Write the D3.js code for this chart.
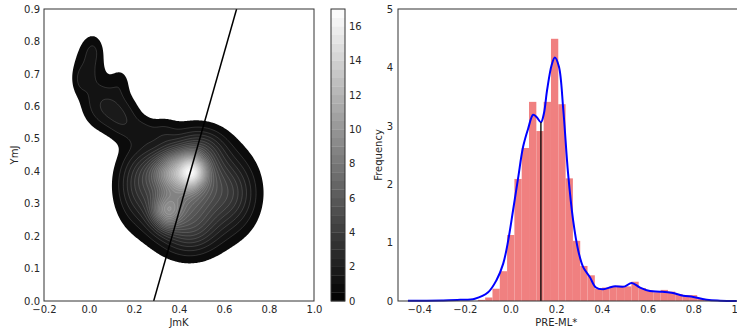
<!DOCTYPE html>
<html><head><meta charset="utf-8">
<script src="https://cdn.jsdelivr.net/npm/d3@7"></script>
<style>
body{margin:0;background:#fff;}
svg text{font-family:"DejaVu Sans",sans-serif;fill:#262626;}
</style></head>
<body>
<svg id="c" width="737" height="329"></svg>
<script>
// ---------- Left panel: density components (JmK, YmJ) ----------
const compJmK = [0.44, 0.22, 0.64, 0.45, 0.50, 0.40, 0.46, 0.345, 0.33, 0.08, 0.16, 0.00, 0.02, 0.14, 0.24, -0.04, 0.38, 0.43];
const compYmJ = [0.34, 0.36, 0.33, 0.22, 0.47, 0.40, 0.40, 0.275, 0.52, 0.60, 0.55, 0.72, 0.78, 0.68, 0.52, 0.68, 0.33, 0.34];
const compSx  = [0.12, 0.06, 0.07, 0.08, 0.07, 0.08, 0.035, 0.045, 0.04, 0.07, 0.05, 0.05, 0.03, 0.03, 0.04, 0.025, 0.05, 0.19];
const compSy  = [0.085, 0.07, 0.07, 0.05, 0.04, 0.04, 0.03, 0.035, 0.03, 0.05, 0.04, 0.06, 0.03, 0.03, 0.03, 0.03, 0.04, 0.125];
const compAmp = [5.6, 1.8, 1.8, 1.8, 1.8, 7.0, 6.0, 5.0, 0.6, 1.5, 0.9, 1.0, 0.5, 0.5, 0.7, 0.5, 0.6, 0.6];
const contourLevels = d3.range(0.5, 17.01, 0.5);
const fitLineJmK = [0.2875, 0.656];
const fitLineYmJ = [0.0, 0.9];
const leftXTicks = [-0.2, 0.0, 0.2, 0.4, 0.6, 0.8, 1.0];
const leftYTicks = [0.0, 0.1, 0.2, 0.3, 0.4, 0.5, 0.6, 0.7, 0.8, 0.9];
const cbTicks = [0, 2, 4, 6, 8, 10, 12, 14, 16];

// ---------- Right panel: histogram + KDE ----------
const histLeft = [-0.143, -0.111, -0.079, -0.047, -0.015, 0.017, 0.049, 0.081, 0.113, 0.145, 0.177, 0.209, 0.241, 0.273, 0.305, 0.337, 0.369, 0.401, 0.433, 0.465, 0.497, 0.529, 0.561, 0.593, 0.625, 0.657, 0.689, 0.721, 0.753, 0.785, 0.817, 0.849];
const histFreq = [0.02, 0.06, 0.21, 0.51, 1.13, 2.09, 2.62, 3.41, 2.91, 3.41, 4.49, 3.37, 2.10, 1.03, 0.60, 0.44, 0.21, 0.23, 0.25, 0.26, 0.25, 0.33, 0.22, 0.18, 0.15, 0.19, 0.16, 0.12, 0.10, 0.10, 0.04, 0.02];
const histBinWidth = 0.032;
const kdeX = [-0.449, -0.30, -0.22, -0.156, -0.098, -0.061, -0.032, -0.010, 0.011, 0.033, 0.055, 0.077, 0.099, 0.114, 0.133, 0.146, 0.160, 0.180, 0.194, 0.212, 0.231, 0.252, 0.274, 0.296, 0.318, 0.347, 0.374, 0.406, 0.450, 0.501, 0.530, 0.567, 0.610, 0.654, 0.705, 0.756, 0.800, 0.859, 0.917, 0.99];
const kdeY = [0.003, 0.01, 0.02, 0.04, 0.15, 0.36, 0.64, 1.04, 1.55, 2.10, 2.64, 2.95, 3.19, 3.15, 3.06, 3.21, 3.61, 4.04, 4.17, 4.01, 3.27, 2.18, 1.38, 0.87, 0.58, 0.41, 0.23, 0.20, 0.25, 0.25, 0.31, 0.23, 0.17, 0.16, 0.14, 0.09, 0.07, 0.02, 0.005, 0.0];
const medianX = 0.133, medianTop = 3.06;
const rightXTicks = [-0.4, -0.2, 0.0, 0.2, 0.4, 0.6, 0.8, 1.0];
const rightYTicks = [0, 1, 2, 3, 4, 5];

const svg = d3.select("#c");
const fmt1 = v => (v < 0 ? "\u2212" : "") + Math.abs(v).toFixed(1);

// ===== Left panel =====
const L = {x0: 44, x1: 314, y0: 9, y1: 301};
const lx = d3.scaleLinear().domain([-0.2, 1.0]).range([L.x0, L.x1]);
const ly = d3.scaleLinear().domain([0, 0.9]).range([L.y1, L.y0]);
const gray = d3.scaleLinear().domain([0, 17]).range(["#000", "#fff"]);

const nx = 300, ny = 225;
const dx = 1.2 / nx, dy = 0.9 / ny;
const values = new Float64Array(nx * ny);
for (let j = 0; j < ny; j++) {
  const yv = 0.9 - (j + 0.5) * dy;
  for (let i = 0; i < nx; i++) {
    const xv = -0.2 + (i + 0.5) * dx;
    let s = 0;
    for (let k = 0; k < compAmp.length; k++) {
      const a = (xv - compJmK[k]) / compSx[k], b = (yv - compYmJ[k]) / compSy[k];
      s += compAmp[k] * Math.exp(-0.5 * (a * a + b * b));
    }
    values[i + j * nx] = s;
  }
}
const contours = d3.contours().size([nx, ny]).thresholds(contourLevels)(values);
const proj = d3.geoTransform({point: function(gx, gy) {
  this.stream.point(lx(-0.2 + gx * dx), ly(0.9 - gy * dy));
}});
const path = d3.geoPath(proj);
svg.append("clipPath").attr("id", "clipL").append("rect")
  .attr("x", L.x0).attr("y", L.y0).attr("width", L.x1 - L.x0).attr("height", L.y1 - L.y0);
const gL = svg.append("g").attr("clip-path", "url(#clipL)");
gL.selectAll("path.band").data(contours).join("path")
  .attr("d", path)
  .attr("fill", d => gray(Math.min(17, d.value + 0.25)))
  .attr("stroke", (d, i) => i === 0 ? "none" : "#ffffff")
  .attr("stroke-opacity", 0.3)
  .attr("stroke-width", 0.5);
gL.append("line")
  .attr("x1", lx(fitLineJmK[0])).attr("y1", ly(fitLineYmJ[0]))
  .attr("x2", lx(fitLineJmK[1])).attr("y2", ly(fitLineYmJ[1]))
  .attr("stroke", "#000").attr("stroke-width", 1.5);
svg.append("rect").attr("x", L.x0).attr("y", L.y0).attr("width", L.x1 - L.x0).attr("height", L.y1 - L.y0)
  .attr("fill", "none").attr("stroke", "#333").attr("stroke-width", 1);

const axLX = svg.append("g").attr("transform", `translate(0,${L.y1})`)
  .call(d3.axisBottom(lx).tickValues(leftXTicks).tickFormat(fmt1).tickSize(0).tickPadding(5));
const axLY = svg.append("g").attr("transform", `translate(${L.x0},0)`)
  .call(d3.axisLeft(ly).tickValues(leftYTicks).tickFormat(fmt1).tickSize(0).tickPadding(4));
svg.append("text").attr("x", (L.x0 + L.x1) / 2).attr("y", 326).attr("text-anchor", "middle")
  .attr("font-size", 10).text("JmK");
svg.append("text").attr("transform", `translate(18,${(L.y0 + L.y1) / 2}) rotate(-90)`)
  .attr("text-anchor", "middle").attr("font-size", 10).text("YmJ");

// ===== Colorbar =====
const CB = {x0: 331, x1: 345};
const cy = d3.scaleLinear().domain([0, 17]).range([L.y1, L.y0]);
const cbBands = [0].concat(contourLevels.slice(0, -1));
svg.append("g").selectAll("rect").data(cbBands).join("rect")
  .attr("x", CB.x0).attr("width", CB.x1 - CB.x0)
  .attr("y", d => cy(d + 0.5)).attr("height", d => cy(d) - cy(d + 0.5) + 0.3)
  .attr("fill", d => gray(d + 0.25));
svg.append("rect").attr("x", CB.x0).attr("y", L.y0).attr("width", CB.x1 - CB.x0).attr("height", L.y1 - L.y0)
  .attr("fill", "none").attr("stroke", "#333").attr("stroke-width", 1);
const axCB = svg.append("g").attr("transform", `translate(${CB.x1},0)`)
  .call(d3.axisRight(cy).tickValues(cbTicks).tickFormat(d3.format("d")).tickSize(0).tickPadding(4));

// ===== Right panel =====
const R = {x0: 398, x1: 739, y0: 9, y1: 301};
const rx = d3.scaleLinear().domain([-0.4925, 1.0]).range([R.x0, R.x1]);
const ry = d3.scaleLinear().domain([0, 5]).range([R.y1, R.y0]);
const gR = svg.append("g");
gR.selectAll("rect").data(histFreq).join("rect")
  .attr("x", (d, i) => rx(histLeft[i]))
  .attr("width", (d, i) => rx(histLeft[i] + histBinWidth) - rx(histLeft[i]))
  .attr("y", d => ry(d)).attr("height", d => ry(0) - ry(d))
  .attr("fill", "#f08080");
const kdePts = kdeX.map((x, i) => [x, kdeY[i]]);
gR.append("path").datum(kdePts)
  .attr("d", d3.line().x(d => rx(d[0])).y(d => ry(d[1])).curve(d3.curveCatmullRom.alpha(0.5)))
  .attr("fill", "none").attr("stroke", "#0000ff").attr("stroke-width", 2);
gR.append("line").attr("x1", rx(medianX)).attr("x2", rx(medianX)).attr("y1", ry(0)).attr("y2", ry(medianTop))
  .attr("stroke", "#000").attr("stroke-width", 1.3);
svg.append("rect").attr("x", R.x0).attr("y", R.y0).attr("width", R.x1 - R.x0).attr("height", R.y1 - R.y0)
  .attr("fill", "none").attr("stroke", "#333").attr("stroke-width", 1);
const axRX = svg.append("g").attr("transform", `translate(0,${R.y1})`)
  .call(d3.axisBottom(rx).tickValues(rightXTicks).tickFormat(fmt1).tickSize(0).tickPadding(5));
const axRY = svg.append("g").attr("transform", `translate(${R.x0},0)`)
  .call(d3.axisLeft(ry).tickValues(rightYTicks).tickFormat(d3.format("d")).tickSize(0).tickPadding(5));
svg.append("text").attr("x", rx(0.2)).attr("y", 326).attr("text-anchor", "middle")
  .attr("font-size", 10).text("PRE-ML*");
svg.append("text").attr("transform", `translate(382,${(R.y0 + R.y1) / 2}) rotate(-90)`)
  .attr("text-anchor", "middle").attr("font-size", 10).text("Frequency");

[axLX, axLY, axCB, axRX, axRY].forEach(g => {
  g.select(".domain").remove();
  g.selectAll("text").attr("font-size", 10).attr("font-family", "DejaVu Sans").attr("fill", "#262626");
});
</script>
</body></html>
